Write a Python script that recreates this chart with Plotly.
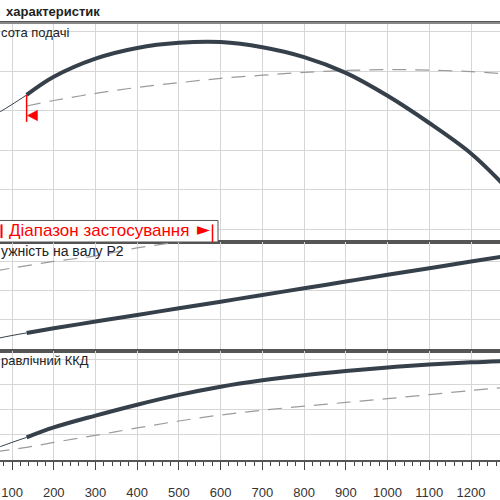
"""Pump characteristic curves (head, shaft power, hydraulic efficiency)."""

import plotly.graph_objects as go
from plotly.subplots import make_subplots

# Flow rate Q, m3/h (application range)
q = [135, 200, 300, 400, 500, 600, 700, 800, 900, 1000, 1100, 1200, 1275]
head = [22.0, 24.3, 26.6, 27.95, 28.6, 28.7, 28.05, 26.8, 24.8, 21.9, 18.45, 14.6, 10.8]
head_dashed = [20.6, 21.3, 22.2, 22.95, 23.55, 24.1, 24.5, 24.85, 25.1, 25.2, 25.15, 24.95, 24.7]
power = [13.5, 17.5, 23.3, 29.0, 34.8, 40.5, 46.3, 52.1, 57.9, 63.7, 69.4, 75.2, 79.5]
eff = [18.0, 25.9, 35.3, 44.0, 51.8, 58.3, 63.4, 67.5, 70.8, 73.6, 75.9, 77.7, 78.7]

# thin continuation left of the application range
q_ext = [60, 100, 135]
head_ext = [19.5, 20.8, 22.0]
power_ext = [8.4, 11.3, 13.5]
eff_ext = [9.2, 14.0, 18.0]

# dashed comparison curves
q_power_dashed = [60, 100, 200, 300, 400, 500, 600]
power_dashed = [67.0, 69.6, 75.3, 80.1, 87.0, 92.1, 97.2]
q_eff_dashed = [60, 135, 200, 300, 400, 500, 600, 700, 800, 900, 1000, 1100, 1200, 1275]
eff_dashed = [6.6, 10.1, 14.0, 19.6, 25.5, 31.0, 35.8, 39.6, 42.8, 45.8, 48.8, 52.0, 55.3, 57.6]

x_ticks = list(range(100, 1300, 100))

CURVE = "#36404a"
DASH = "#9b9b9b"
GRID = "#d6d6d6"
BORDER = "#555555"
FONT = "Liberation Sans, Arial, sans-serif"

# pixel helpers (500x500 page, plot area from y=23 to y=470)
TOP, BOTTOM = 23, 470


def px_y(py):
    return (BOTTOM - py) / (BOTTOM - TOP)


def px_x(px):
    return px / 500


fig = make_subplots(
    rows=3, cols=1, shared_xaxes=True, vertical_spacing=0, row_heights=[224, 111, 112]
)

panels = [
    (1, head, head_dashed, q, head_ext),
    (2, power, power_dashed, q_power_dashed, power_ext),
    (3, eff, eff_dashed, q_eff_dashed, eff_ext),
]
for row, main, dashed, q_dashed, ext in panels:
    fig.add_trace(
        go.Scatter(x=q_dashed, y=dashed, mode="lines", line=dict(color=DASH, width=1.2, dash="14px,9px", shape="spline")),
        row=row, col=1,
    )
    fig.add_trace(
        go.Scatter(x=q_ext, y=ext, mode="lines", line=dict(color=CURVE, width=1, shape="spline")),
        row=row, col=1,
    )
    fig.add_trace(
        go.Scatter(x=q, y=main, mode="lines", line=dict(color=CURVE, width=4, shape="spline")),
        row=row, col=1,
    )

x_common = dict(
    range=[71.2, 1269.5],
    tickvals=x_ticks,
    showgrid=True,
    gridcolor=GRID,
    gridwidth=1,
    showline=True,
    mirror=True,
    linecolor=BORDER,
    linewidth=1.5,
    zeroline=False,
)
fig.update_xaxes(**x_common, showticklabels=False, ticks="")
fig.update_xaxes(
    row=3, col=1,
    showticklabels=True,
    ticks="outside",
    ticklen=8,
    tickcolor="#444",
    tickwidth=1,
    ticklabelstandoff=12,
    tickfont=dict(family=FONT, size=13, color="#333"),
    minor=dict(dtick=20, tick0=0, ticks="outside", ticklen=4, tickcolor="#444", showgrid=False),
)

y_common = dict(showticklabels=False, ticks="", showgrid=True, gridcolor=GRID, gridwidth=1, zeroline=False)
fig.update_yaxes(**y_common, row=1, col=1, range=[3.39, 31.11], tickvals=[5, 10, 15, 20, 25, 30])
fig.update_yaxes(**y_common, row=2, col=1, range=[-1.7, 92.1], tickvals=[25, 50, 75])
fig.update_yaxes(**y_common, row=3, col=1, range=[0, 87.1], tickvals=[20, 40, 60, 80])

shapes = []
annotations = []

# top rule under the title
shapes.append(dict(type="line", xref="paper", yref="paper", x0=-0.01, x1=1.01, y0=1, y1=1,
                   line=dict(color="#888", width=2), layer="above"))

# panel labels with white backing behind them
labels = [
    ("сота подачі", 33, 70, 13),
    ("ужність на валу P2", 256, 132, 14),
    ("равлічний ККД", 368, 92, 13),
]
for text, py, width, size in labels:
    shapes.append(dict(type="rect", xref="paper", yref="paper", x0=-0.01, x1=px_x(width),
                       y0=px_y(py + 8), y1=px_y(py - 8), fillcolor="white", line=dict(width=0),
                       layer="between"))
    annotations.append(dict(text=text, xref="paper", yref="paper", x=px_x(-1), y=px_y(py),
                            xanchor="left", yanchor="middle", showarrow=False,
                            font=dict(family=FONT, size=size, color="#222")))

# application range start marker
q_start = q[0]
shapes.append(dict(type="line", xref="x", yref="y", x0=q_start, x1=q_start, y0=head[0], y1=18.6,
                   line=dict(color="red", width=1.5), layer="above"))
shapes.append(dict(type="path", xref="x", yref="y",
                   path=f"M {q_start + 2},19.4 L {q_start + 26},20.05 L {q_start + 26},18.75 Z",
                   fillcolor="red", line=dict(color="red", width=0.5), layer="above"))

# application range box
shapes.append(dict(type="rect", xref="paper", yref="paper", x0=-0.01, x1=px_x(218),
                   y0=px_y(247), y1=px_y(225), fillcolor="white",
                   line=dict(color=BORDER, width=1), layer="above"))
shapes.append(dict(type="line", xref="paper", yref="paper", x0=px_x(1.5), x1=px_x(1.5),
                   y0=px_y(243), y1=px_y(229), line=dict(color="red", width=2), layer="above"))
shapes.append(dict(type="line", xref="paper", yref="paper", x0=px_x(212.5), x1=px_x(212.5),
                   y0=px_y(247), y1=px_y(229), line=dict(color="red", width=1.5), layer="above"))
annotations.append(dict(text="Діапазон застосування", xref="paper", yref="paper",
                        x=px_x(7), y=px_y(235.5), xanchor="left", yanchor="middle", showarrow=False,
                        font=dict(family=FONT, size=17, color="#ff0000")))
annotations.append(dict(text="►", xref="paper", yref="paper",
                        x=px_x(204), y=px_y(234), xanchor="center", yanchor="middle", showarrow=False,
                        font=dict(family="DejaVu Sans", size=17, color="#ff0000")))

# title (cut by the crop on the left)
annotations.append(dict(text="<b>характеристик</b>", xref="paper", yref="paper",
                        x=px_x(4), y=px_y(11), xanchor="left", yanchor="middle", showarrow=False,
                        font=dict(family=FONT, size=13, color="#222")))

fig.update_layout(
    width=500,
    height=500,
    margin=dict(l=0, r=0, t=TOP, b=500 - BOTTOM),
    paper_bgcolor="white",
    plot_bgcolor="white",
    showlegend=False,
    shapes=shapes,
    annotations=annotations,
)

fig.write_html(
    "out.html",
    config={"displayModeBar": False},
    post_script="document.body.style.margin='0';document.body.style.overflow='hidden';",
)
